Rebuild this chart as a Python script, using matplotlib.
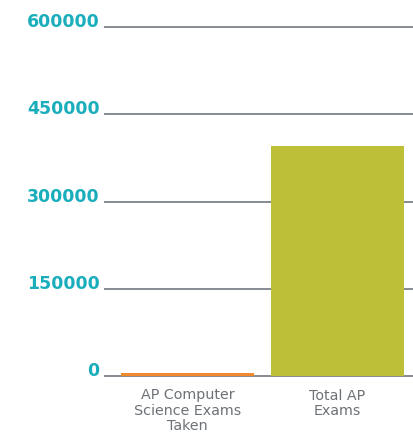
import numpy as np
import matplotlib.pyplot as plt

categories = ["AP Computer\nScience Exams\nTaken", "Total AP\nExams"]
exam_counts = [4500, 395000]
bar_colors = ["#f08a2c", "#bdbf36"]
y_ticks = [0, 150000, 300000, 450000, 600000]

fig = plt.figure(figsize=(4.14, 4.33), dpi=100)
ax = fig.add_axes([105 / 414, 57 / 433, 309 / 414, 349 / 433])

x = np.arange(len(categories))
for yv in y_ticks:
    ax.axhline(yv, color="#858b92", linewidth=1.4, zorder=1, clip_on=False)
ax.bar(x, exam_counts, width=0.887, color=bar_colors, zorder=2)

ax.set_xlim(-0.55, 1.51)
ax.set_ylim(0, 600000)
ax.set_yticks(y_ticks)
ax.set_yticklabels([str(v) for v in y_ticks], color="#1aaebd",
                   fontsize=12.5, fontweight="bold", family="DejaVu Sans")
for lab in ax.get_yticklabels():
    lab.set_verticalalignment("baseline")
ax.set_xticks(x)
ax.set_xticklabels(categories, color="#6d7278", fontsize=10.3,
                   family="DejaVu Sans", linespacing=1.1)
ax.tick_params(axis="y", length=0, pad=4)
ax.tick_params(axis="x", length=0, pad=9)
for s in ax.spines.values():
    s.set_visible(False)

fig.savefig("out.png", dpi=100)
